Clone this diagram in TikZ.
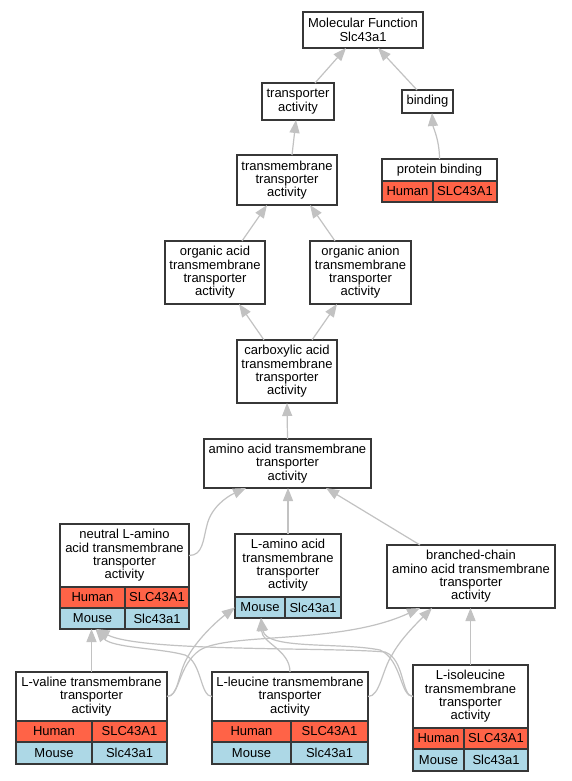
\documentclass[tikz,border=0pt]{standalone}
\usepackage{fontspec}
\setmainfont{Liberation Sans}
\usetikzlibrary{arrows.meta}
\definecolor{bordc}{RGB}{55,55,55}
\definecolor{edgec}{RGB}{194,194,194}
\definecolor{humanc}{RGB}{255,99,71}
\definecolor{mousec}{RGB}{173,216,230}
\newcommand\nf{\fontsize{13}{13.3}\selectfont}
\tikzset{
  term/.style={draw=bordc, line width=1.4pt, fill=white, inner sep=0pt, outer sep=0pt, align=center, font=\nf, rectangle},
  hcell/.style={term, fill=humanc},
  mcell/.style={term, fill=mousec},
  edge/.style={draw=edgec, line width=1.2pt, -{Triangle[length=13pt,width=10pt]}},
}
\begin{document}
\begin{tikzpicture}[x=1pt,y=-1pt]
\useasboundingbox[fill=white] (0,0) rectangle (571,781);

% plain terms
\node[term, minimum width=120pt, minimum height=36pt] (mf) at (363,30) {Molecular Function\\Slc43a1};
\node[term, minimum width=72pt, minimum height=37pt] (trans) at (298,101.5) {transporter\\activity};
\node[term, minimum width=51pt, minimum height=23pt] (bind) at (427.5,101.5) {binding};
\node[term, minimum width=100pt, minimum height=50pt] (tm) at (287,180) {transmembrane\\transporter\\activity};
\node[term, minimum width=100pt, minimum height=63pt] (oa) at (215,272.5) {organic acid\\transmembrane\\transporter\\activity};
\node[term, minimum width=101pt, minimum height=63pt] (oan) at (360.5,272.5) {organic anion\\transmembrane\\transporter\\activity};
\node[term, minimum width=100pt, minimum height=63pt] (carb) at (287,371.5) {carboxylic acid\\transmembrane\\transporter\\activity};
\node[term, minimum width=167pt, minimum height=49pt] (amino) at (287.5,463.5) {amino acid transmembrane\\transporter\\activity};
\node[term, minimum width=168pt, minimum height=63pt] (branched) at (471,576.5) {branched-chain\\amino acid transmembrane\\transporter\\activity};

% protein binding
\node[term, minimum width=115pt, minimum height=22pt] (pb) at (439.5,170) {protein binding};
\node[hcell, minimum width=51pt, minimum height=21pt] (pb-h1) at (407.5,191.5) {Human};
\node[hcell, minimum width=64pt, minimum height=21pt] (pb-h2) at (465,191.5) {SLC43A1};

% neutral L-amino acid
\node[term, minimum width=129pt, minimum height=63pt] (neutral-h) at (124.5,555.5) {neutral L-amino\\acid transmembrane\\transporter\\activity};
\node[hcell, minimum width=65pt, minimum height=21pt] (neutral-h1) at (92.5,597.5) {Human};
\node[hcell, minimum width=64pt, minimum height=21pt] (neutral-h2) at (157,597.5) {SLC43A1};
\node[mcell, minimum width=65pt, minimum height=21pt] (neutral-m1) at (92.5,618.5) {Mouse};
\node[mcell, minimum width=64pt, minimum height=21pt] (neutral-m2) at (157,618.5) {Slc43a1};

% L-amino acid
\node[term, minimum width=106pt, minimum height=63pt] (lamino-h) at (288,565.5) {L-amino acid\\transmembrane\\transporter\\activity};
\node[mcell, minimum width=50pt, minimum height=21pt] (lamino-m1) at (260,607.5) {Mouse};
\node[mcell, minimum width=56pt, minimum height=21pt] (lamino-m2) at (313,607.5) {Slc43a1};

% L-valine
\node[term, minimum width=151pt, minimum height=49pt] (valine-h) at (91.5,696.5) {L-valine transmembrane\\transporter\\activity};
\node[hcell, minimum width=76pt, minimum height=21pt] (valine-h1) at (54,731.5) {Human};
\node[hcell, minimum width=75pt, minimum height=21pt] (valine-h2) at (129.5,731.5) {SLC43A1};
\node[mcell, minimum width=76pt, minimum height=22pt] (valine-m1) at (54,753) {Mouse};
\node[mcell, minimum width=75pt, minimum height=22pt] (valine-m2) at (129.5,753) {Slc43a1};

% L-leucine
\node[term, minimum width=156pt, minimum height=49pt] (leucine-h) at (290,696.5) {L-leucine transmembrane\\transporter\\activity};
\node[hcell, minimum width=79pt, minimum height=21pt] (leucine-h1) at (251.5,731.5) {Human};
\node[hcell, minimum width=77pt, minimum height=21pt] (leucine-h2) at (329.5,731.5) {SLC43A1};
\node[mcell, minimum width=79pt, minimum height=22pt] (leucine-m1) at (251.5,753) {Mouse};
\node[mcell, minimum width=77pt, minimum height=22pt] (leucine-m2) at (329.5,753) {Slc43a1};

% L-isoleucine
\node[term, minimum width=115pt, minimum height=63pt] (isoleucine-h) at (470.5,696.5) {L-isoleucine\\transmembrane\\transporter\\activity};
\node[hcell, minimum width=51pt, minimum height=21pt] (isoleucine-h1) at (438.5,738.5) {Human};
\node[hcell, minimum width=64pt, minimum height=21pt] (isoleucine-h2) at (496,738.5) {SLC43A1};
\node[mcell, minimum width=51pt, minimum height=22pt] (isoleucine-m1) at (438.5,760) {Mouse};
\node[mcell, minimum width=64pt, minimum height=22pt] (isoleucine-m2) at (496,760) {Slc43a1};

% upper edges
\draw[edge] ([xshift=17pt]trans.north) -- ([xshift=-17pt]mf.south);
\draw[edge] ([xshift=-10.5pt]bind.north) -- ([xshift=15pt]mf.south);
\draw[edge] ([xshift=5pt]tm.north) -- ([xshift=-2pt]trans.south);
\draw[edge] (pb.north) .. controls +(0,-19) and +(1,14) .. ([xshift=4.5pt]bind.south);
\draw[edge] ([xshift=27pt]oa.north) -- ([xshift=-20pt]tm.south);
\draw[edge] ([xshift=-25.5pt]oan.north) -- ([xshift=23pt]tm.south);
\draw[edge] ([xshift=-23pt]carb.north) -- ([xshift=24pt]oa.south);
\draw[edge] ([xshift=25pt]carb.north) -- ([xshift=-23.5pt]oan.south);
\draw[edge] (amino.north) -- (carb.south);

% middle edges
\draw[edge] (neutral-h.east) .. controls (203,555.5) and (203,540) .. (207,525)
  .. controls (211,508) and (226,497) .. ([xshift=-41.5pt]amino.south);
\draw[edge] (lamino-h.north) -- (lamino-h.north |- amino.south);
\draw[edge] ([xshift=-51pt]branched.north) -- ([xshift=38.5pt]amino.south);

% lower edges
\draw[edge] (valine-h.north) -- (valine-h.north |- neutral-m1.south);
\draw[edge] (valine-h.east) .. controls (178,696.5) and (178,675) .. (186,660)
  .. controls (196,640) and (217,621) .. (lamino-m1.west);
\draw[edge] (valine-h.east) .. controls (180,696.5) and (178,665) .. (200,650)
  .. controls (230,632) and (340,645) .. ([xshift=-51pt]branched.south);
\draw[edge] (leucine-h.west) .. controls (200,696.5) and (202,662) .. (185,655)
  .. controls (160,648) and (112,648) .. ([xshift=3pt]neutral-m1.south);
\draw[edge] (leucine-h.north) .. controls +(0,-22) and +(1,25) .. ([xshift=1pt]lamino-m1.south);
\draw[edge] (leucine-h.east) .. controls (380,696.5) and (382,670) .. (392,655)
  .. controls (400,640) and (415,625) .. ([xshift=-39pt]branched.south);
\draw[edge] (isoleucine-h.west) .. controls (401,696.5) and (405,659) .. (385,652)
  .. controls (330,647) and (140,652) .. ([xshift=4pt]neutral-m1.south);
\draw[edge] (isoleucine-h.west) .. controls (400,696.5) and (402,660) .. (380,650)
  .. controls (340,642) and (266,650) .. ([xshift=1pt]lamino-m1.south);
\draw[edge] (isoleucine-h.north) -- (isoleucine-h.north |- branched.south);
\end{tikzpicture}
\end{document}
